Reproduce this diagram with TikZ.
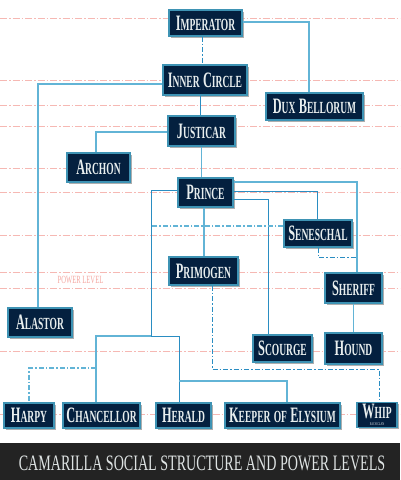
\documentclass[tikz,border=0pt]{standalone}
\usepackage{graphicx}
\usepackage{fontspec}
\newfontfamily\labf{Liberation Serif}
\usetikzlibrary{shadows,calc}
\definecolor{navy}{HTML}{04203F}
\definecolor{boxedge}{HTML}{3E93B4}
\definecolor{lblue}{HTML}{62B4D6}
\definecolor{dblue}{HTML}{2A8DC2}
\definecolor{pinkl}{HTML}{F6B8B3}
\definecolor{pinkt}{HTML}{F4A8A2}
\definecolor{txt}{HTML}{E8EEEE}
\definecolor{barc}{HTML}{232323}
\newcommand\rk[2]{{\fontsize{22}{22}\selectfont #1}{\fontsize{17}{17}\selectfont #2}}
\newcommand\nlab[1]{\scalebox{0.56}[1]{\labf\bfseries\fontsize{24}{24}\selectfont #1}}
\tikzset{
  rank/.style={draw=boxedge, line width=1.1pt, fill=navy, text=txt, inner sep=0pt,
    drop shadow={shadow xshift=1.6pt, shadow yshift=-1.6pt, fill=black!45, opacity=0.7}},
  conA/.style={draw=lblue, line width=1.5pt},
  conB/.style={draw=dblue, line width=0.9pt},
  dashA/.style={draw=lblue, line width=1.5pt, dash pattern=on 5pt off 2pt on 1.5pt off 2pt},
  dashB/.style={draw=dblue, line width=0.9pt, dash pattern=on 5pt off 2pt on 1.5pt off 2pt},
  plevel/.style={draw=pinkl, line width=0.9pt, dash pattern=on 7pt off 2pt on 1.5pt off 2pt},
}
\begin{document}
\begin{tikzpicture}[x=1pt,y=-1pt]
\useasboundingbox (0,0) rectangle (400,480);
\fill[white] (0,0) rectangle (400,480);
% power level lines
\foreach \yy in {18,80,105,126,168,192,235,272,288,351,414}
  \draw[plevel] (0,\yy) -- (400,\yy);
\node[text=pinkt, inner sep=0pt] (plabel) at (80.5,280) {\scalebox{0.6}[1]{\labf\fontsize{11}{11}\selectfont POWER LEVEL}};
% nodes
\node[rank, minimum width=73pt, minimum height=26pt] (imp) at (205.5,23) {\nlab{\rk{I}{MPERATOR}}};
\node[rank, minimum width=84pt, minimum height=30pt] (inner) at (205,80) {\nlab{\rk{I}{NNER} \rk{C}{IRCLE}}};
\node[rank, minimum width=97pt, minimum height=27pt] (dux) at (314.5,106.5) {\nlab{\rk{D}{UX} \rk{B}{ELLORUM}}};
\node[rank, minimum width=67pt, minimum height=30pt] (just) at (201.5,131) {\nlab{\rk{J}{USTICAR}}};
\node[rank, minimum width=63pt, minimum height=29pt] (archon) at (98.5,167.5) {\nlab{\rk{A}{RCHON}}};
\node[rank, minimum width=55pt, minimum height=29pt] (prince) at (205.5,192.5) {\nlab{\rk{P}{RINCE}}};
\node[rank, minimum width=68pt, minimum height=27pt] (sen) at (318,233.5) {\nlab{\rk{S}{ENESCHAL}}};
\node[rank, minimum width=69pt, minimum height=28pt] (primo) at (203.5,271) {\nlab{\rk{P}{RIMOGEN}}};
\node[rank, minimum width=57pt, minimum height=30pt] (sheriff) at (353.5,288) {\nlab{\rk{S}{HERIFF}}};
\node[rank, minimum width=64pt, minimum height=29pt] (alastor) at (40,322.5) {\nlab{\rk{A}{LASTOR}}};
\node[rank, minimum width=59pt, minimum height=27pt] (scourge) at (282.5,348.5) {\nlab{\rk{S}{COURGE}}};
\node[rank, minimum width=57pt, minimum height=31pt] (hound) at (353.5,348.5) {\nlab{\rk{H}{OUND}}};
\node[rank, minimum width=50pt, minimum height=25pt] (harpy) at (29,415.5) {\nlab{\rk{H}{ARPY}}};
\node[rank, minimum width=77pt, minimum height=25pt] (chanc) at (101.5,415.5) {\nlab{\rk{C}{HANCELLOR}}};
\node[rank, minimum width=55pt, minimum height=25pt] (herald) at (183.5,415.5) {\nlab{\rk{H}{ERALD}}};
\node[rank, minimum width=115pt, minimum height=25pt] (keeper) at (282.5,415.5) {\nlab{\rk{K}{EEPER} \rk{}{OF} \rk{E}{LYSIUM}}};
\node[rank, minimum width=40pt, minimum height=25pt, align=center, font=\fontsize{4.2}{5}\selectfont] (whip) at (377,415)
  {\nlab{\rk{W}{HIP}}\\[2.2pt]\scalebox{0.6}[1]{\labf EACH CLAN}};
% junction coordinates
\coordinate (j1) at (151,336);
\coordinate (j2) at (179,381);
\coordinate (j3) at (96,368);
\coordinate (j4) at (357,257);
\coordinate (j5) at (212,369);
\coordinate (sw) at ([yshift=7.5pt]sen.west);
% connectors
\draw[dashB] ([xshift=-3.5pt]imp.south) -- ([xshift=-3.5pt]imp.south |- inner.north);
\draw[conA] ([yshift=1pt]imp.east) -| ([xshift=-5.5pt]dux.north);
\draw[conA] ([yshift=-4pt]inner.west) -| ([xshift=-2pt]alastor.north);
\draw[conB] ([xshift=-5pt]inner.south) -- ([xshift=-5pt]inner.south |- just.north);
\draw[conA] ([yshift=-1pt]just.west) -| ([xshift=-2.5pt]archon.north);
\draw[conA] (just.south) -- (just.south |- prince.north);
\draw[conB] ([yshift=2.5pt]prince.west) -| (j1);
\draw[conA] ([xshift=-5.5pt]chanc.north) |- (j1);
\draw[conB] (j1) -| ([xshift=-4.5pt]herald.north);
\draw[conA] (j2) -| ([xshift=4.5pt]keeper.north);
\draw[dashA] (j3) -| (harpy.north);
\draw[conA] ([yshift=10.5pt]prince.east) -| ([xshift=3.5pt]sheriff.north);
\draw[conB] ([yshift=1.5pt]prince.east) -| ([xshift=-1pt]sen.north);
\draw[conB] ([yshift=-6.5pt]prince.east) -| ([xshift=-14.5pt]scourge.north);
\draw[conA] ([xshift=-1.5pt]prince.south) -- ([xshift=-1.5pt]prince.south |- primo.north);
\draw[dashA] (sw) -- (j1 |- sw);
\draw[dashB] (sen.south) |- (j4);
\draw[dashB] ([xshift=8.5pt]primo.south) -- (j5) -| ([xshift=2pt]whip.north);
\draw[conA] (sheriff.south) -- (hound.north);
% bottom bar
\fill[barc] (0,443) rectangle (400,480);
\node[text=txt!90!gray, inner sep=0pt] (title) at (202,463)
  {\scalebox{0.64}[1]{\labf\fontsize{22}{22}\selectfont CAMARILLA SOCIAL STRUCTURE AND POWER LEVELS}};
\end{tikzpicture}
\end{document}
